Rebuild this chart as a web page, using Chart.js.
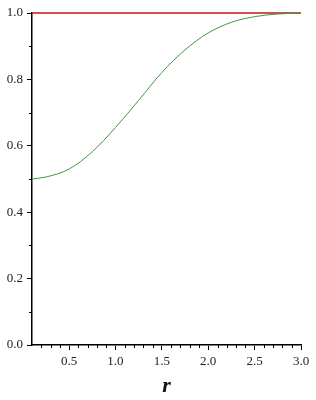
<!DOCTYPE html>
<html>
<head>
<meta charset="utf-8">
<script src="https://cdn.jsdelivr.net/npm/chart.js@4/dist/chart.umd.min.js"></script>
<style>
  html, body { margin: 0; padding: 0; background: #fff; }
  #wrap { width: 316px; height: 400px; }
</style>
</head>
<body>
<div id="wrap"><canvas id="plot" width="316" height="400"></canvas></div>
<script>
// values
const rValues    = [0.1, 0.25, 0.5, 0.75, 1.0, 1.25, 1.5, 1.75, 2.0, 2.25, 2.5, 2.75, 3.0];
const greenCurve = [0.500, 0.506, 0.530, 0.582, 0.655, 0.737, 0.821, 0.889, 0.940, 0.972, 0.989, 0.997, 1.000];
const redLine    = [1, 1, 1, 1, 1, 1, 1, 1, 1, 1, 1, 1, 1];

const xMajor = [0.5, 1.0, 1.5, 2.0, 2.5, 3.0];
const xMinor = [0.2, 0.3, 0.4, 0.6, 0.7, 0.8, 0.9, 1.1, 1.2, 1.3, 1.4, 1.6, 1.7, 1.8, 1.9,
                2.1, 2.2, 2.3, 2.4, 2.6, 2.7, 2.8, 2.9];
const yMajor = [0.0, 0.2, 0.4, 0.6, 0.8, 1.0];
const yMinor = [0.1, 0.3, 0.5, 0.7, 0.9];
const xTitle = 'r';

const serif = '"Liberation Serif", "DejaVu Serif", serif';

// short ticks between the labelled ones
const minorTicks = {
    id: 'minorTicks',
    afterDraw(chart) {
        const ctx = chart.ctx;
        const xs = chart.scales.x, ys = chart.scales.y;
        ctx.save();
        ctx.strokeStyle = '#000';
        ctx.lineWidth = 1;
        ctx.beginPath();
        xMinor.forEach(v => {
            const px = Math.round(xs.getPixelForValue(v)) + 0.5;
            ctx.moveTo(px, ys.bottom);
            ctx.lineTo(px, ys.bottom + 3);
        });
        yMinor.forEach(v => {
            const py = Math.round(ys.getPixelForValue(v)) + 0.5;
            ctx.moveTo(xs.left, py);
            ctx.lineTo(xs.left - 3, py);
        });
        ctx.stroke();
        ctx.restore();
    }
};

new Chart(document.getElementById('plot'), {
    type: 'line',
    data: {
        datasets: [
            {
                data: rValues.map((r, i) => ({ x: r, y: greenCurve[i] })),
                borderColor: '#3a9a3a',
                borderWidth: 1,
                pointRadius: 0,
                cubicInterpolationMode: 'monotone',
                clip: 4
            },
            {
                data: rValues.map((r, i) => ({ x: r, y: redLine[i] })),
                borderColor: '#c41414',
                borderWidth: 1.4,
                pointRadius: 0,
                clip: 4
            }
        ]
    },
    options: {
        responsive: false,
        animation: false,
        layout: { padding: { top: 13, right: 15, left: 0, bottom: 0 } },
        plugins: { legend: { display: false }, tooltip: { enabled: false } },
        scales: {
            x: {
                type: 'linear',
                min: 0.1, max: 3.0,
                afterBuildTicks: s => { s.ticks = xMajor.map(v => ({ value: v })); },
                afterFit: s => { s.height = 55; },
                grid: { drawOnChartArea: false, tickLength: 5, color: '#000', lineWidth: 1 },
                border: { display: true, color: '#000', width: 1.5 },
                ticks: {
                    color: '#222', padding: 4, maxRotation: 0,
                    font: { family: serif, size: 13 },
                    callback: v => v.toFixed(1)
                },
                title: {
                    display: true, text: xTitle, color: '#111',
                    font: { family: serif, size: 22, style: 'italic', weight: 'bold' },
                    padding: { top: 0, bottom: 0 }
                }
            },
            y: {
                min: 0, max: 1,
                afterBuildTicks: s => { s.ticks = yMajor.map(v => ({ value: v })); },
                afterFit: s => { s.width = 32; },
                grid: { drawOnChartArea: false, tickLength: 5, color: '#000', lineWidth: 1 },
                border: { display: true, color: '#000', width: 1.5 },
                ticks: {
                    color: '#222', padding: 4,
                    font: { family: serif, size: 13 },
                    callback: v => v.toFixed(1)
                }
            }
        }
    },
    plugins: [minorTicks]
});
</script>
</body>
</html>
